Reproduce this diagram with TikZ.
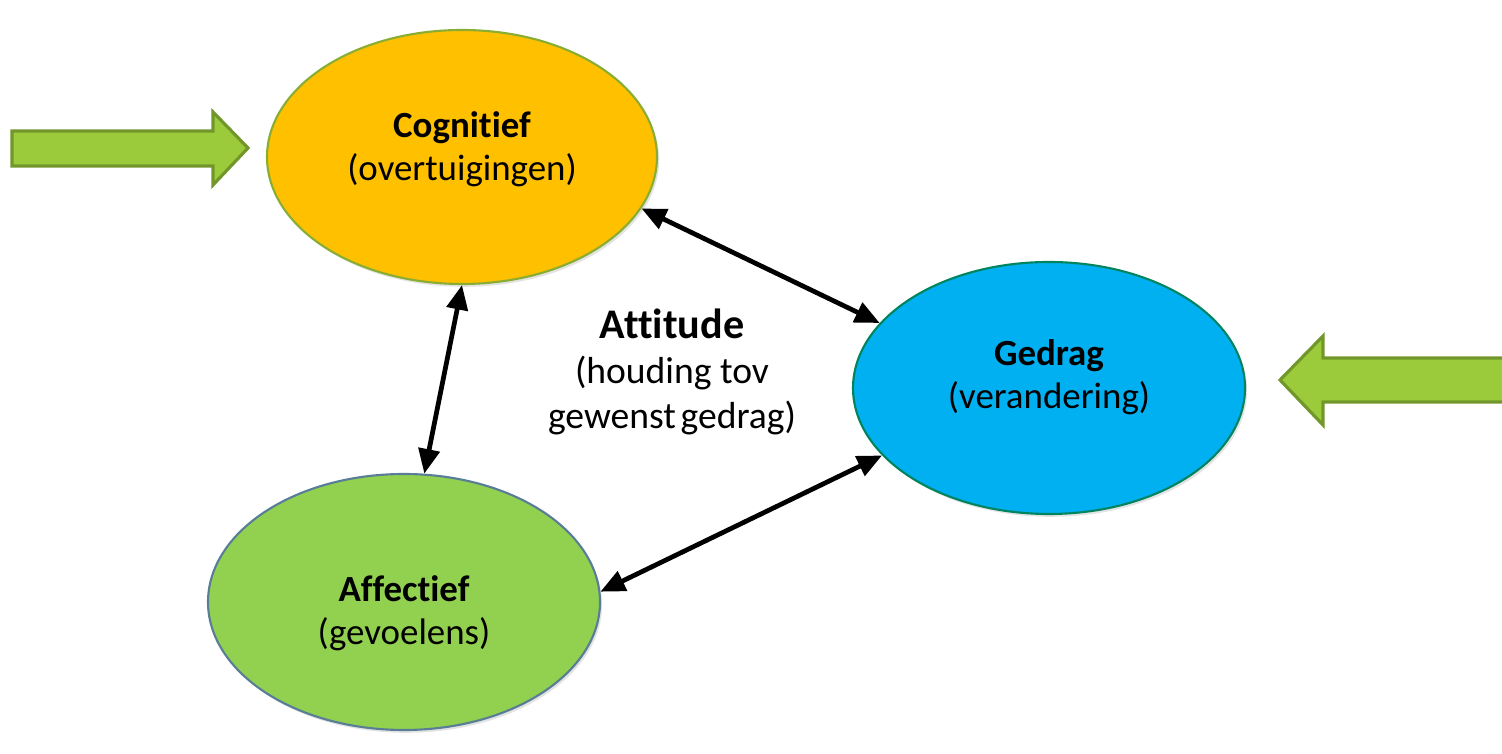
\documentclass[tikz,border=0pt]{standalone}
\usepackage{fontspec}
\setmainfont{Carlito}[Ligatures={NoCommon}]
\usetikzlibrary{shapes.geometric,arrows.meta,shadows}
\definecolor{cogfill}{HTML}{FFC000}
\definecolor{gedfill}{HTML}{00B0F0}
\definecolor{afffill}{HTML}{92D050}
\definecolor{arrfill}{HTML}{9BCB3B}
\definecolor{arrdraw}{HTML}{71972B}
\tikzset{
  bubble/.style={ellipse, inner sep=0pt, line width=0.6pt,
    drop shadow={opacity=0.22, shadow xshift=0.6pt, shadow yshift=-0.8pt}},
  lbl/.style={align=center, font=\fontsize{10.5}{12.2}\selectfont, text=black},
  link/.style={line width=1.35pt, {Triangle[length=7pt,width=6pt]}-{Triangle[length=7pt,width=6pt]}},
  block/.style={fill=arrfill, draw=arrdraw, line width=0.9pt, line join=miter}
}
\begin{document}
\begin{tikzpicture}
\useasboundingbox (0,0) rectangle (15.02,7.54);
\clip (0,0) rectangle (15.02,7.54);
% ellipses
\node[bubble, fill=cogfill, draw=cogfill!60!green!70!black!80, minimum width=3.90cm, minimum height=2.54cm] (cog) at (4.62,5.97) {};
\node[bubble, fill=gedfill, draw=green!40!black!60!gedfill, minimum width=3.92cm, minimum height=2.52cm] (ged) at (10.49,3.66) {};
\node[bubble, fill=afffill, draw=blue!40!afffill, minimum width=3.92cm, minimum height=2.56cm] (aff) at (4.04,1.52) {};
% labels
\node[lbl] (cogt) at (4.62,6.05) {\textbf{Cognitief}\\(overtuigingen)};
\node[lbl] (gedt) at (10.49,3.77) {\textbf{Gedrag}\\(verandering)};
\node[lbl] (afft) at (4.04,1.41) {\textbf{Affectief}\\(gevoelens)};
\node[lbl, font=\fontsize{10.7}{12.8}\selectfont] (att) at (6.72,3.82) {{\fontsize{12}{12.8}\selectfont\textbf{Attitude}}\\(houding tov\\gewenst\hspace{-0.1em} gedrag)};
% connectors
\draw[link] (cog.south) -- (aff.81);
\draw[link] (cog.-16) -- (ged.159);
\draw[link] (aff.3.5) -- (ged.202);
% green block arrows
\draw[block] (0.12,6.23) -- (2.13,6.23) -- (2.13,6.42) -- (2.48,6.06) -- (2.13,5.69) -- (2.13,5.88) -- (0.12,5.88) -- cycle;
\draw[block] (15.2,3.96) -- (13.23,3.96) -- (13.23,4.18) -- (12.80,3.74) -- (13.23,3.29) -- (13.23,3.52) -- (15.2,3.52);
\end{tikzpicture}
\end{document}
